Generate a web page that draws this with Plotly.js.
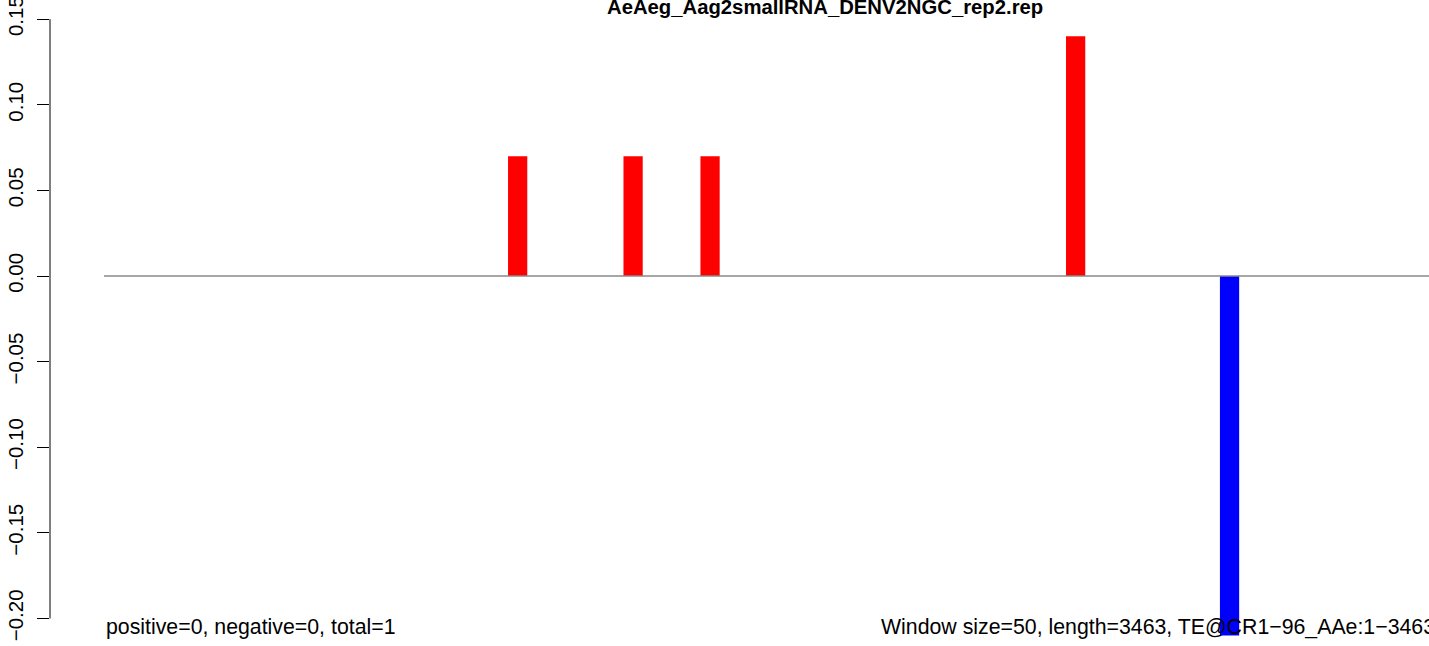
<!DOCTYPE html>
<html><head><meta charset="utf-8">
<script src="https://cdn.plot.ly/plotly-3.0.1.min.js"></script>
<style>html,body{margin:0;padding:0;overflow:hidden;background:#fff}</style>
</head><body><div id="chart" style="width:1429px;height:646px"></div>
<script>
// ---- data ----
const TITLE = "AeAeg_Aag2smallRNA_DENV2NGC_rep2.rep";
const WINDOW_SIZE = 50;
const SEQ_LENGTH = 3463;
const TE_NAME = "TE@CR1\u221296_AAe";
const posStarts = [1050, 1350, 1550, 2500];
const posValues = [0.07, 0.07, 0.07, 0.14];
const negStarts = [2900];
const negValues = [-0.21];
const countPositive = 0, countNegative = 0, countTotal = 1;
const yTickVals = [-0.20, -0.15, -0.10, -0.05, 0, 0.05, 0.10, 0.15];

// ---- layout ----
const W = 1429, H = 646, L = 50;
const xRange = [-140.3, 3443.3];
const yRange = [-0.2161, 0.1612];
const FONT = '"Liberation Sans", Arial, Helvetica, sans-serif';
const FS = 20.5;
const FS_NOTE = 21.3;
const paperX = v => (v - xRange[0]) / (xRange[1] - xRange[0]);

const traces = [
  {type: 'bar', x: posStarts, y: posValues, width: WINDOW_SIZE, offset: 0,
   marker: {color: '#ff0000', line: {width: 0}}, hoverinfo: 'x+y'},
  {type: 'bar', x: negStarts, y: negValues, width: WINDOW_SIZE, offset: 0,
   marker: {color: '#0000ff', line: {width: 0}}, hoverinfo: 'x+y'}
];

const layout = {
  width: W, height: H,
  margin: {l: L, r: 0, t: 0, b: 0, pad: 0},
  paper_bgcolor: '#ffffff', plot_bgcolor: '#ffffff',
  showlegend: false, barmode: 'overlay',
  font: {family: FONT, size: FS, color: '#000'},
  xaxis: {range: xRange, visible: false, fixedrange: true},
  yaxis: {range: yRange, showgrid: false, zeroline: false, showline: false,
          tickmode: 'array', tickvals: yTickVals, tickformat: '.2f',
          ticks: 'outside', ticklen: 12, tickwidth: 1, tickcolor: '#000',
          tickangle: -90, ticklabeloverflow: 'allow', ticklabelstandoff: 6,
          tickfont: {family: FONT, size: FS, color: '#000'},
          fixedrange: true},
  shapes: [
    {type: 'line', xref: 'paper', yref: 'y', x0: 0, x1: 0,
     y0: yTickVals[0], y1: yTickVals[yTickVals.length - 1],
     line: {color: '#000', width: 1}},
    {type: 'line', xref: 'x', yref: 'y', x0: 0, x1: SEQ_LENGTH, y0: 0, y1: 0,
     line: {color: '#8a8a8a', width: 1.5}, layer: 'above'}
  ],
  annotations: [
    {text: '<b>' + TITLE + '</b>', xref: 'paper', yref: 'paper',
     x: (825 - L) / (W - L), y: 1 - 7 / H, xanchor: 'center', yanchor: 'middle',
     showarrow: false, font: {family: FONT, size: 20.3, color: '#000'}},
    {text: 'positive=' + countPositive + ', negative=' + countNegative + ', total=' + countTotal,
     xref: 'paper', yref: 'paper', x: paperX(0), y: 1 - 627 / H,
     xanchor: 'left', yanchor: 'middle', showarrow: false,
     font: {family: FONT, size: FS_NOTE, color: '#000'}},
    {text: 'Window size=' + WINDOW_SIZE + ', length=' + SEQ_LENGTH + ', ' + TE_NAME + ':1\u2212' + SEQ_LENGTH,
     xref: 'paper', yref: 'paper', x: paperX(SEQ_LENGTH), y: 1 - 627 / H,
     xanchor: 'right', yanchor: 'middle', showarrow: false,
     font: {family: FONT, size: FS_NOTE, color: '#000'}}
  ]
};

Plotly.newPlot('chart', traces, layout, {displayModeBar: false, staticPlot: true});
</script>
</body></html>
